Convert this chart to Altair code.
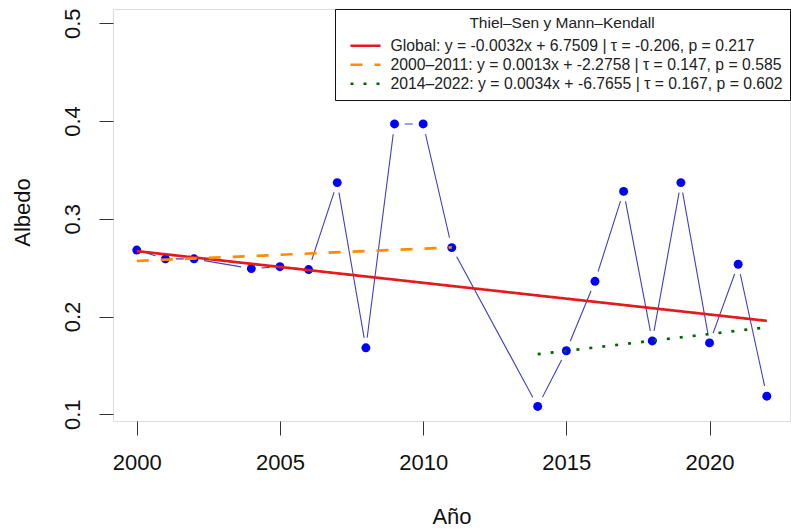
import altair as alt
import numpy as np
import pandas as pd

# Annual mean albedo
years = [2000, 2001, 2002, 2004, 2005, 2006, 2007, 2008, 2009, 2010, 2011,
         2014, 2015, 2016, 2017, 2018, 2019, 2020, 2021, 2022]
albedo = [0.268, 0.259, 0.259, 0.249, 0.251, 0.248, 0.337, 0.168, 0.397, 0.397, 0.2705,
          0.108, 0.165, 0.236, 0.328, 0.175, 0.337, 0.173, 0.2535, 0.1185]

# Theil–Sen fits and Mann–Kendall statistics per period
periods = ["Global", "2000–2011", "2014–2022"]
period_start = [2000, 2000, 2014]
period_end = [2022, 2011, 2022]
slopes = [-0.003242, 0.0012663, 0.0034394]
intercepts = [6.7509, -2.2758, -6.7655]
taus = [-0.206, 0.147, 0.167]
pvals = [0.217, 0.585, 0.602]
line_colors = ["#e41a1c", "#ff8c00", "#006400"]
line_dashes = [[1, 0], [12, 12], [3, 10]]

FONT = "Liberation Sans"

obs = pd.DataFrame({"year": years, "albedo": albedo})

labels = [
    f"{p}: y = {s:.4f}x + {b:.4f} | τ = {t:.3f}, p = {pv:.3f}"
    for p, s, b, t, pv in zip(periods, slopes, intercepts, taus, pvals)
]
trend_rows = []
for lab, x0, x1, s, b in zip(labels, period_start, period_end, slopes, intercepts):
    for x in (x0, x1):
        trend_rows.append({"serie": lab, "year": x, "fit": s * x + b})
trend = pd.DataFrame(trend_rows)

x_scale = alt.Scale(domain=[1999.17, 2022.81], nice=False, zero=False)
y_scale = alt.Scale(domain=[0.0931, 0.5146], nice=False, zero=False)

x_axis = alt.Axis(
    values=[2000, 2005, 2010, 2015, 2020], format="d", title="Año",
    domain=False, grid=False, tickSize=14, tickColor="#333", tickWidth=1,
    labelFontSize=22, labelFont=FONT, labelColor="#111", labelPadding=27,
    labelBaseline="middle", labelFlush=False,
    titleFontSize=22, titleFont=FONT, titleFontWeight="normal", titleColor="#111",
    titleX=338.5, titleY=95, titleBaseline="middle", titleAlign="center",
)
y_axis = alt.Axis(
    values=[0.1, 0.2, 0.3, 0.4, 0.5], format=".1f", title="Albedo",
    domain=False, grid=False, tickSize=14, tickColor="#333", tickWidth=1,
    labelFontSize=22, labelFont=FONT, labelColor="#111", labelPadding=27,
    labelAngle=270, labelAlign="center", labelBaseline="middle", labelFlush=False,
    titleFontSize=22, titleFont=FONT, titleFontWeight="normal", titleColor="#111",
    titleAngle=270, titleX=-91, titleY=203, titleBaseline="middle", titleAlign="center",
)

base = alt.Chart(obs).encode(
    x=alt.X("year:Q", scale=x_scale, axis=x_axis),
    y=alt.Y("albedo:Q", scale=y_scale, axis=y_axis),
)

# thin connecting line, interrupted around each point
connect = base.mark_line(color="#4040c0", strokeWidth=1.1)
halo = base.mark_point(filled=True, shape="circle", size=430, color="white", opacity=1)
points = base.mark_point(filled=True, shape="circle", size=80, color="#0000ff", opacity=1)

legend_title = "Thiel–Sen y Mann–Kendall"
trend_lines = alt.Chart(trend).mark_line(strokeWidth=2.7).encode(
    x=alt.X("year:Q", scale=x_scale),
    y=alt.Y("fit:Q", scale=y_scale),
    detail="serie:N",
    color=alt.Color(
        "serie:N",
        scale=alt.Scale(domain=labels, range=line_colors),
        sort=labels,
        legend=alt.Legend(
            title=legend_title, orient="top-right", offset=0,
            strokeColor="#111", fillColor="white", padding=7, cornerRadius=0,
            titleFont=FONT, titleFontSize=15.5, titleFontWeight="normal", titleColor="#222",
            titleAnchor="middle", titleAlign="center", titlePadding=5, titleLimit=600,
            labelFont=FONT, labelFontSize=15.75, labelColor="#222", labelLimit=0,
            symbolType="stroke", symbolSize=900, symbolStrokeWidth=2.7,
            symbolOffset=7, rowPadding=0, clipHeight=18.5, labelOffset=8.5,
        ),
    ),
    strokeDash=alt.StrokeDash(
        "serie:N",
        scale=alt.Scale(domain=labels, range=line_dashes),
        sort=labels,
        legend=alt.Legend(title=legend_title, orient="top-right", offset=0),
    ),
)

chart = alt.layer(connect, halo, points, trend_lines).properties(
    width=677, height=412,
    padding={"left": 113, "top": 9, "right": 1, "bottom": 110},
    autosize=alt.AutoSizeParams(type="none"),
).configure_view(
    stroke="#444", strokeWidth=1.4
).configure(background="white")

chart.save("out.html", embed_options={"renderer": "svg", "actions": False})
